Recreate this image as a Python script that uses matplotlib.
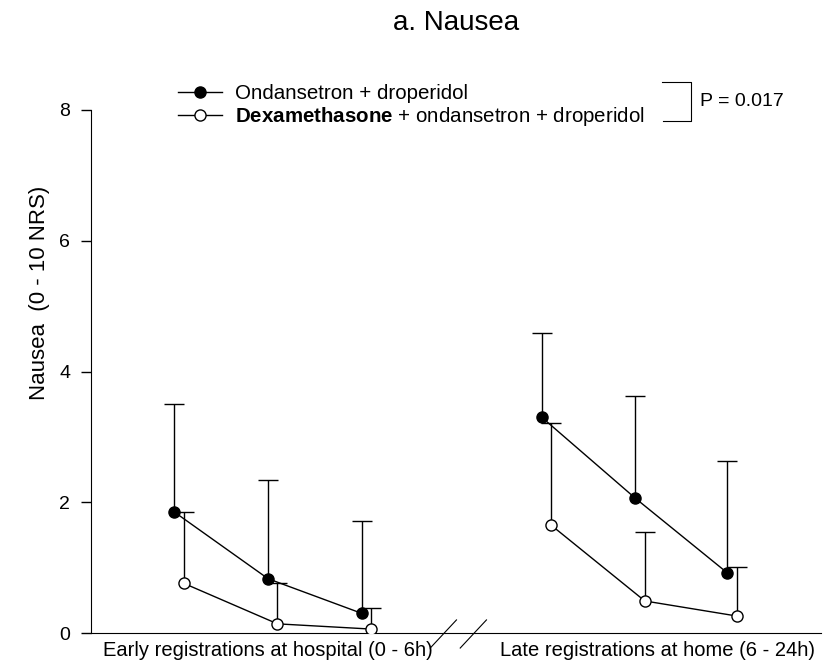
import numpy as np
import matplotlib.pyplot as plt
from matplotlib.lines import Line2D

plt.rcParams['font.family'] = ['Liberation Sans', 'DejaVu Sans']
plt.rcParams['mathtext.fontset'] = 'custom'
plt.rcParams['mathtext.rm'] = 'Liberation Sans'
plt.rcParams['mathtext.bf'] = 'Liberation Sans:bold'

# data: mean nausea score and SD (upper bar only)
early_x = [1.0, 2.0, 3.0]
late_x = [4.92, 5.92, 6.9]
early_ond = [1.85, 0.83, 0.30]
early_ond_sd = [1.65, 1.51, 1.41]
early_dex = [0.76, 0.14, 0.06]
early_dex_sd = [1.09, 0.62, 0.32]
late_ond = [3.30, 2.06, 0.92]
late_ond_sd = [1.29, 1.56, 1.71]
late_dex = [1.65, 0.49, 0.26]
late_dex_sd = [1.56, 1.05, 0.75]

group_labels = ['Early registrations at hospital (0 - 6h)',
                'Late registrations at home (6 - 24h)']
group_label_x = [2.0, 6.15]
offset = 0.1

fig = plt.figure(figsize=(8.32, 6.66), dpi=100)
ax = fig.add_axes([91/832, 1 - 633/666, (821-91)/832, (633-110)/666])


def draw(xs, means, sd, face):
    eb = ax.errorbar(xs, means, yerr=[np.zeros(len(sd)), sd], color='black', lw=1,
                     elinewidth=1, capsize=7, capthick=1, marker='o', ms=8,
                     mfc=face, mec='black', zorder=3)
    # only the upper cap is drawn
    eb[1][0].set_visible(False)


for xs, ond, ond_sd, dex, dex_sd in [(early_x, early_ond, early_ond_sd, early_dex, early_dex_sd),
                                      (late_x, late_ond, late_ond_sd, late_dex, late_dex_sd)]:
    xs = np.array(xs)
    draw(xs, ond, ond_sd, 'black')
    draw(xs + offset, dex, dex_sd, 'white')

ax.set_xlim(0.11, 7.9)
ax.set_ylim(0, 8)
ax.set_yticks([0, 2, 4, 6, 8])
ax.set_xticks(group_label_x)
ax.set_xticklabels(group_labels, fontsize=14.5)
ax.tick_params(axis='x', length=0, pad=6)
ax.tick_params(axis='y', length=7, width=1, labelsize=14, pad=8)
ax.spines['top'].set_visible(False)
ax.spines['right'].set_visible(False)
ax.set_ylabel('Nausea  (0 - 10 NRS)', fontsize=16)
ax.yaxis.set_label_coords(-0.056, 0.65)

# axis break marks
for xb in [3.87, 4.19]:
    ax.plot([xb + 0.14, xb - 0.14], [0.2, -0.23], color='black', lw=0.8, clip_on=False)

# legend
h1 = Line2D([], [], color='black', lw=1, marker='o', ms=8, mfc='black', mec='black')
h2 = Line2D([], [], color='black', lw=1, marker='o', ms=8, mfc='white', mec='black')
fig.legend([h1, h2],
           ['Ondansetron + droperidol',
            r'$\mathbf{Dexamethasone}$ + ondansetron + droperidol'],
           loc='upper left', bbox_to_anchor=(178/832, 1 - 84/666), frameon=False,
           fontsize=14.8, handlelength=2.15, handletextpad=0.6, labelspacing=0.12,
           borderpad=0, borderaxespad=0)

# bracket with p value
bx = np.array([662, 691, 691, 663]) / 832
by = 1 - np.array([82, 82, 121, 121]) / 666
fig.add_artist(Line2D(bx, by, color='black', lw=0.8))
fig.text(700/832, 1 - 102/666, 'P = 0.017', fontsize=14, va='center', ha='left')

fig.text(456/832, 1 - 30/666, 'a. Nausea', fontsize=20, ha='center', va='baseline')

fig.savefig('out.png', dpi=100)
